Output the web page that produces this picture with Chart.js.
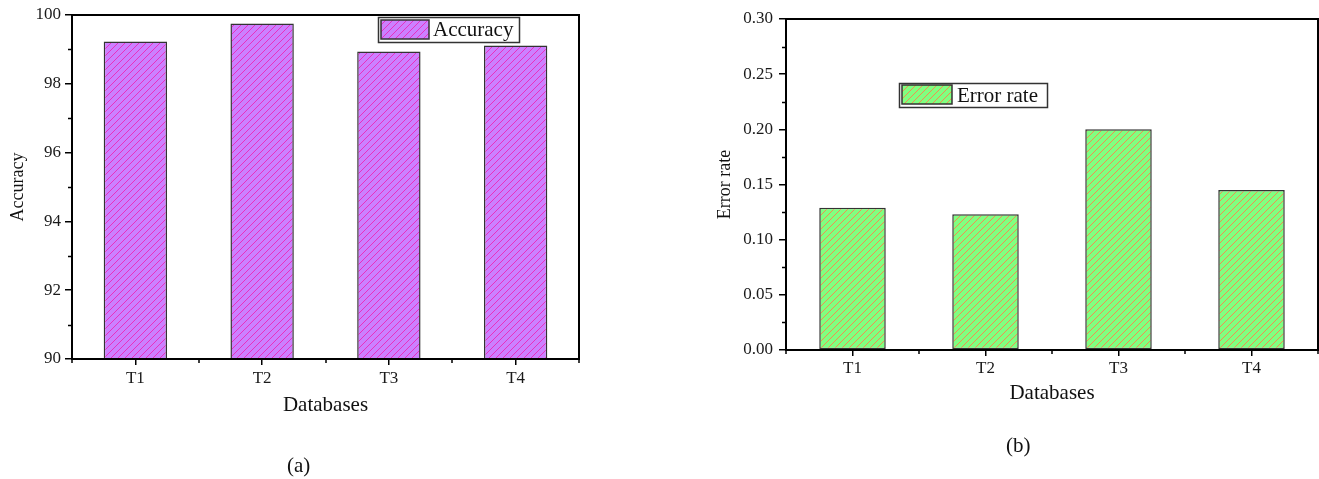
<!DOCTYPE html>
<html><head><meta charset="utf-8">
<script src="https://cdn.jsdelivr.net/npm/chart.js@4/dist/chart.umd.min.js"></script>
<style>
body{margin:0;width:1319px;height:479px;background:#fff;position:relative;overflow:hidden;}
#c1{position:absolute;left:0;top:0;width:600px;height:479px;}
#c2{position:absolute;left:700px;top:0;width:619px;height:479px;}
.cap{position:absolute;font:21px 'Liberation Serif',serif;color:#111;line-height:24px;}
</style></head><body>
<canvas id="c1" width="600" height="479"></canvas>
<canvas id="c2" width="619" height="479"></canvas>
<div class="cap" style="left:287px;top:453px">(a)</div>
<div class="cap" style="left:1006px;top:433px">(b)</div>
<script>
const categories = ['T1', 'T2', 'T3', 'T4'];
const accuracyValues = [99.23, 99.75, 98.94, 99.11];
const errorRateValues = [0.129, 0.123, 0.200, 0.145];
const accuracyTicks = [90, 92, 94, 96, 98, 100];
const errorRateTicks = [0.00, 0.05, 0.10, 0.15, 0.20, 0.25, 0.30];
const xTitle = 'Databases';
const accuracyLabel = 'Accuracy';
const errorRateLabel = 'Error rate';

const SERIF = "'Liberation Serif', 'Times New Roman', serif";

function makeHatch(bg, fg, size) {
  const c = document.createElement('canvas');
  c.width = c.height = size;
  const x = c.getContext('2d');
  x.fillStyle = bg; x.fillRect(0, 0, size, size);
  x.strokeStyle = fg; x.lineWidth = 1;
  x.beginPath();
  x.moveTo(0, size); x.lineTo(size, 0);
  x.moveTo(-1, 1); x.lineTo(1, -1);
  x.moveTo(size - 1, size + 1); x.lineTo(size + 1, size - 1);
  x.stroke();
  return x.createPattern(c, 'repeat');
}

const framePlugin = {
  id: 'frame',
  afterDraw(chart, args, opts) {
    const {ctx, chartArea: a, scales} = chart;
    ctx.save();
    ctx.strokeStyle = '#000';
    ctx.lineWidth = 2;
    ctx.strokeRect(a.left, a.top, a.right - a.left, a.bottom - a.top);
    ctx.lineWidth = 1.5;
    const y = scales.y, x = scales.x;
    const t = opts.majors;
    ctx.beginPath();
    for (let i = 0; i < t.length - 1; i++) {
      const py = Math.round(y.getPixelForValue((t[i] + t[i + 1]) / 2)) + 0.5;
      ctx.moveTo(a.left, py); ctx.lineTo(a.left - 4, py);
    }
    for (let i = 0; i <= categories.length; i++) {
      const px = Math.round(x.getPixelForValue(i - 0.5));
      ctx.moveTo(px, a.bottom); ctx.lineTo(px, a.bottom + 4);
    }
    ctx.stroke();
    const L = opts.legend;
    ctx.lineWidth = 1.5;
    ctx.strokeStyle = '#333';
    ctx.strokeRect(L.box[0] + 0.5, L.box[1] + 0.5, L.box[2], L.box[3]);
    const ds = chart.data.datasets[0];
    ctx.fillStyle = ds.backgroundColor;
    ctx.fillRect(L.sw[0], L.sw[1], L.sw[2], L.sw[3]);
    ctx.strokeStyle = '#333';
    ctx.lineWidth = 1.5;
    ctx.strokeRect(L.sw[0], L.sw[1], L.sw[2], L.sw[3]);
    ctx.fillStyle = '#111';
    ctx.font = '21px ' + SERIF;
    ctx.textBaseline = 'middle';
    ctx.textAlign = 'left';
    ctx.fillText(ds.label, L.tx, L.ty);
    ctx.restore();
  }
};

function makeChart(id, cfg) {
  const ctx = document.getElementById(id).getContext('2d');
  return new Chart(ctx, {
    type: 'bar',
    data: {
      labels: categories,
      datasets: [{
        label: cfg.label,
        data: cfg.values,
        backgroundColor: makeHatch(cfg.bg, cfg.fg, 7),
        borderColor: '#333',
        borderWidth: 1.5,
        borderSkipped: false,
        categoryPercentage: 1,
        barPercentage: 0.5
      }]
    },
    plugins: [framePlugin],
    options: {
      responsive: false,
      animation: false,
      layout: {padding: cfg.padding},
      plugins: {
        legend: {display: false},
        tooltip: {enabled: false},
        frame: {majors: cfg.ticks, legend: cfg.legend}
      },
      scales: {
        x: {
          offset: true,
          grid: {display: true, drawOnChartArea: false, drawTicks: true, tickLength: 6, color: '#000', lineWidth: 1.5, offset: false},
          border: {display: true, color: '#000', width: 2},
          ticks: {font: {family: SERIF, size: 17}, color: '#1a1a1a', padding: cfg.xPad, maxRotation: 0},
          title: {display: true, text: xTitle, font: {family: SERIF, size: 21}, color: '#111', padding: {top: 0, bottom: cfg.xTitlePad}},
          afterFit(s) { s.height = cfg.xHeight; }
        },
        y: {
          min: cfg.ticks[0], max: cfg.ticks[cfg.ticks.length - 1],
          afterBuildTicks(s) { s.ticks = cfg.ticks.map(v => ({value: v})); },
          grid: {display: true, drawOnChartArea: false, drawTicks: true, tickLength: 7, color: '#000', lineWidth: 1.5},
          border: {display: true, color: '#000', width: 2},
          ticks: {font: {family: SERIF, size: 17}, color: '#1a1a1a', padding: cfg.yPad, callback: cfg.fmt},
          title: {display: true, text: cfg.label, font: {family: SERIF, size: 18}, color: '#111', padding: {top: cfg.yTitlePad, bottom: 0}},
          afterFit(s) { s.width = cfg.yWidth; }
        }
      }
    }
  });
}

makeChart('c1', {
  label: accuracyLabel, values: accuracyValues, ticks: accuracyTicks,
  bg: '#cc80ff', fg: '#e830c0',
  padding: {left: 0, top: 15, right: 21, bottom: 0},
  xHeight: 120, yWidth: 72, xPad: 3, yPad: 4, xTitlePad: 61, yTitlePad: 7,
  fmt: v => String(v),
  legend: {box: [378, 17, 141, 25], sw: [381, 20, 48, 19], tx: 433, ty: 30}
});

makeChart('c2', {
  label: errorRateLabel, values: errorRateValues, ticks: errorRateTicks,
  bg: '#80ff80', fg: '#f09050',
  padding: {left: 0, top: 19, right: 1, bottom: 0},
  xHeight: 129, yWidth: 86, xPad: 2, yPad: 6, xTitlePad: 73, yTitlePad: 14,
  fmt: v => Number(v).toFixed(2),
  legend: {box: [199, 83, 148, 24], sw: [202, 85, 50, 19], tx: 257, ty: 96}
});
</script>
</body></html>
